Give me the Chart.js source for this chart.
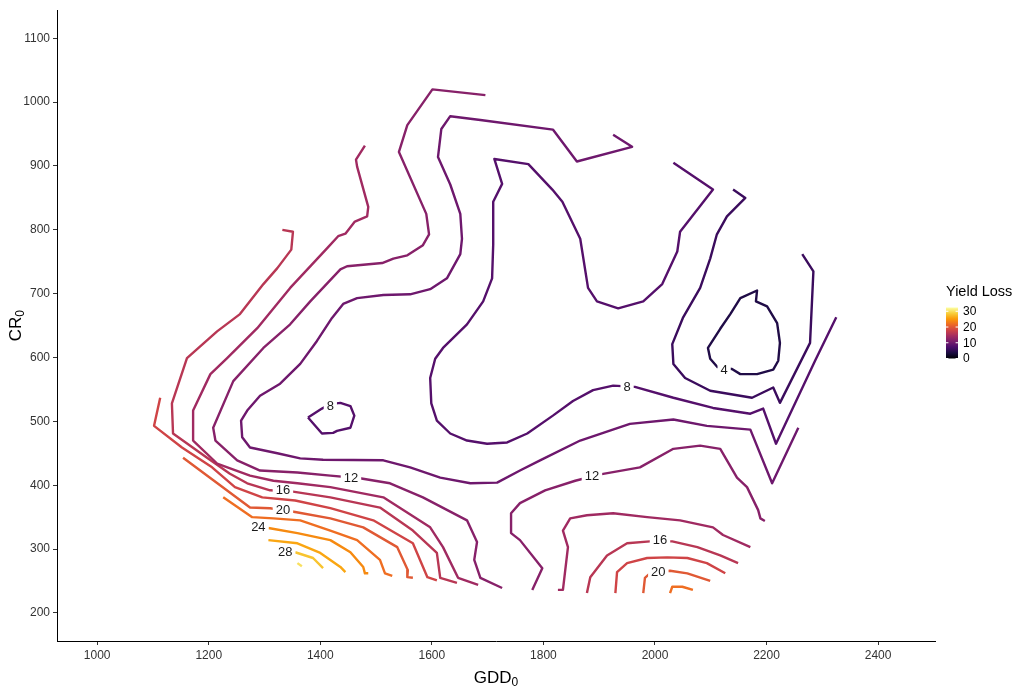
<!DOCTYPE html>
<html>
<head>
<meta charset="utf-8">
<script src="https://cdn.jsdelivr.net/npm/chart.js@4.4.1/dist/chart.umd.min.js"></script>
<style>
  html, body { margin: 0; padding: 0; background: #ffffff; }
  canvas { display: block; }
</style>
</head>
<body>
<canvas id="chart" width="1021" height="687"></canvas>
<script>
// Axis ticks
const xTicks = [1000, 1200, 1400, 1600, 1800, 2000, 2200, 2400];
const yTicks = [200, 300, 400, 500, 600, 700, 800, 900, 1000, 1100];

// Contour paths of yield loss, as [GDD0, CR0] pairs
const loss4 = [[2113,584],[2099,598],[2095,615],[2117,645],[2135,668],[2153,693],[2183,705],[2181,688],[2201,680],[2219,654],[2224,623],[2221,595],[2212,581],[2183,574],[2153,574],[2138,582],[2113,584]];
const loss6 = [[2140,863],[2162,850],[2129,821],[2111,793],[2099,755],[2081,709],[2050,662],[2031,621],[2033,590],[2054,568],[2099,548],[2174,537],[2212,553],[2224,529],[2278,623],[2284,735],[2264,762]];
const loss8 = [[2033,905],[2104,863],[2045,797],[2040,766],[2013,715],[1979,688],[1934,677],[1896,688],[1880,709],[1866,786],[1834,844],[1816,863],[1773,903],[1712,911],[1726,872],[1710,844],[1710,777],[1708,724],[1692,688],[1663,652],[1620,615],[1606,598],[1597,568],[1599,528],[1609,501],[1633,481],[1663,470],[1699,465],[1735,467],[1771,481],[1817,509],[1853,532],[1889,549],[1925,556],[1964,554],[2033,537],[2104,521],[2171,512],[2194,520],[2217,465],[2287,595],[2325,663]];
const loss8Island = [[1378,506],[1403,520],[1418,527],[1436,529],[1454,524],[1461,509],[1454,490],[1430,485],[1423,482],[1403,481],[1378,506]];
const loss10 = [[1925,949],[1959,930],[1860,907],[1817,957],[1687,972],[1633,978],[1617,958],[1611,914],[1633,871],[1651,825],[1654,786],[1651,762],[1627,724],[1597,707],[1561,699],[1513,698],[1466,693],[1441,684],[1421,662],[1394,626],[1364,590],[1328,559],[1292,540],[1269,517],[1258,501],[1260,475],[1274,459],[1323,450],[1364,442],[1405,440],[1513,439],[1561,428],[1615,412],[1669,403],[1717,404],[1758,423],[1794,439],[1866,470],[1955,496],[2033,503],[2093,493],[2171,487],[2210,403],[2257,490]];
const loss12West = [[1696,1011],[1601,1020],[1556,964],[1541,922],[1590,825],[1595,793],[1584,776],[1556,760],[1531,755],[1511,748],[1448,743],[1436,738],[1382,688],[1346,652],[1298,615],[1244,563],[1208,490],[1212,470],[1251,439],[1292,423],[1359,420],[1418,415],[1471,411],[1525,403],[1584,381],[1663,345],[1681,311],[1676,283],[1687,255],[1726,239]];
const loss12East = [[1780,236],[1798,270],[1758,314],[1742,325],[1742,356],[1758,372],[1803,392],[1857,407],[1902,417],[1973,428],[2033,457],[2081,462],[2117,457],[2147,412],[2165,397],[2185,361],[2189,348],[2197,344]];
const loss14West = [[1480,932],[1464,910],[1466,899],[1486,836],[1484,821],[1462,813],[1445,794],[1432,790],[1412,771],[1346,709],[1287,646],[1233,599],[1203,574],[1172,517],[1172,470],[1215,434],[1274,415],[1316,407],[1359,403],[1418,397],[1513,381],[1597,334],[1620,303],[1647,255],[1683,244]];
const loss14East = [[1826,236],[1835,236],[1844,303],[1835,329],[1848,348],[1878,353],[1925,356],[1986,350],[2045,345],[2104,334],[2122,322],[2171,303]];
const loss16West = [[1332,800],[1351,797],[1348,769],[1323,740],[1298,715],[1256,668],[1215,641],[1161,599],[1134,528],[1136,481],[1197,443],[1238,418],[1269,403],[1310,392],[1351,390],[1418,381],[1507,365],[1566,329],[1609,294],[1615,255],[1645,247]];
const loss16East = [[1878,231],[1884,256],[1914,290],[1950,309],[1991,312],[2031,312],[2076,303],[2117,290],[2149,278]];
const loss18West = [[1113,537],[1102,493],[1152,459],[1206,428],[1247,397],[1296,381],[1355,376],[1418,364],[1495,345],[1566,309],[1592,256],[1609,251]];
const loss18East = [[1929,231],[1932,264],[1950,278],[1986,286],[2022,287],[2058,286],[2093,278],[2126,262]];
const loss20West = [[1154,443],[1274,365],[1310,364],[1355,358],[1418,348],[1477,334],[1538,303],[1557,267],[1556,256],[1566,255]];
const loss20East = [[1979,231],[1982,255],[1991,262],[2027,266],[2058,262],[2099,250]];
const loss22West = [[1226,381],[1278,350],[1316,348],[1364,345],[1418,329],[1466,314],[1507,283],[1516,262],[1529,258]];
const loss22East = [[2027,231],[2031,241],[2049,241],[2068,236]];
const loss24 = [[1307,333],[1359,325],[1418,314],[1454,295],[1477,272],[1480,262],[1486,262]];
const loss26 = [[1307,314],[1359,309],[1400,294],[1436,272],[1445,264]];
const loss28 = [[1355,295],[1387,286],[1405,270]];
const loss30 = [[1359,278],[1367,273]];

// Level of each path, in the same order as the paths below
const contourLevels = [4, 6, 8, 8, 10, 12, 12, 14, 14, 16, 16, 18, 18, 20, 20, 22, 22, 24, 26, 28, 30];
const contourPaths = [loss4, loss6, loss8, loss8Island, loss10, loss12West, loss12East, loss14West, loss14East,
  loss16West, loss16East, loss18West, loss18East, loss20West, loss20East, loss22West, loss22East,
  loss24, loss26, loss28, loss30];

// In-line contour labels
const labelText = ['4', '8', '8', '12', '12', '16', '16', '20', '20', '24', '28'];
const labelGdd  = [2124, 1950, 1418, 1455, 1887, 1333, 2009, 1333, 2006, 1289, 1337];
const labelCr   = [581, 554, 524, 411, 414, 392, 314, 362, 264, 334, 295];

// Colour bar
const legendTicks = [0, 10, 20, 30];
const legendMax = 32.4;

const FONT = "'Liberation Sans', Arial, Helvetica, sans-serif";
const INFERNO = ['#000004', '#1b0c42', '#4b0c6b', '#781c6d', '#a52c60', '#cf4446', '#ed6925', '#fb9a06', '#f7d03c', '#fcffa4'];

function hexToRgb(h) {
  return [parseInt(h.slice(1, 3), 16), parseInt(h.slice(3, 5), 16), parseInt(h.slice(5, 7), 16)];
}
function inferno(t) {
  t = Math.max(0, Math.min(1, t));
  const p = t * (INFERNO.length - 1);
  const i = Math.min(INFERNO.length - 2, Math.floor(p));
  const f = p - i;
  const a = hexToRgb(INFERNO[i]), b = hexToRgb(INFERNO[i + 1]);
  const c = a.map((v, k) => Math.round(v + (b[k] - v) * f));
  return `rgb(${c[0]},${c[1]},${c[2]})`;
}

const datasets = contourPaths.map((path, i) => ({
  data: path.map(([x, y]) => ({ x, y })),
  showLine: true,
  pointRadius: 0,
  pointHoverRadius: 0,
  borderWidth: 2.4,
  borderColor: inferno(contourLevels[i] / legendMax),
  borderJoinStyle: 'round',
  fill: false,
  tension: 0
}));

const overlay = {
  id: 'overlay',
  afterDatasetsDraw(chart) {
    const { ctx, scales: { x, y }, chartArea } = chart;
    ctx.save();

    // contour labels with a white knock-out behind the digits
    ctx.font = '13px ' + FONT;
    ctx.textAlign = 'center';
    ctx.textBaseline = 'middle';
    labelText.forEach((t, i) => {
      const px = x.getPixelForValue(labelGdd[i]);
      const py = y.getPixelForValue(labelCr[i]);
      const w = ctx.measureText(t).width;
      ctx.fillStyle = '#ffffff';
      ctx.fillRect(px - w / 2 - 3, py - 6, w + 6, 12);
      ctx.fillStyle = '#1a1a1a';
      ctx.fillText(t, px, py + 0.5);
    });

    // axis titles with subscript zero
    ctx.fillStyle = '#000000';
    ctx.textAlign = 'left';
    ctx.textBaseline = 'alphabetic';
    const mainFont = '17px ' + FONT, subFont = '12px ' + FONT;
    function subTitle(main, cx, baseY) {
      ctx.font = mainFont;
      const w1 = ctx.measureText(main).width;
      ctx.font = subFont;
      const w2 = ctx.measureText('0').width;
      const sx = cx - (w1 + w2) / 2;
      ctx.font = mainFont;
      ctx.fillText(main, sx, baseY);
      ctx.font = subFont;
      ctx.fillText('0', sx + w1, baseY + 3);
    }
    subTitle('GDD', (chartArea.left + chartArea.right) / 2, 683);
    ctx.save();
    ctx.translate(21, (chartArea.top + chartArea.bottom) / 2);
    ctx.rotate(-Math.PI / 2);
    subTitle('CR', 0, 0);
    ctx.restore();

    // colour bar legend
    const bx = 946, bw = 12, bTop = 307.5, bBot = 358.5;
    ctx.font = '14.5px ' + FONT;
    ctx.fillStyle = '#000000';
    ctx.fillText('Yield Loss', 946, 296);
    const grad = ctx.createLinearGradient(0, bBot, 0, bTop);
    for (let k = 0; k <= 40; k++) grad.addColorStop(k / 40, inferno(k / 40));
    ctx.fillStyle = grad;
    ctx.fillRect(bx, bTop, bw, bBot - bTop);
    ctx.strokeStyle = '#ffffff';
    ctx.lineWidth = 1;
    ctx.font = '12px ' + FONT;
    ctx.textBaseline = 'middle';
    legendTicks.forEach(v => {
      const py = bBot - (v / legendMax) * (bBot - bTop);
      ctx.beginPath();
      ctx.moveTo(bx, py); ctx.lineTo(bx + 2.4, py);
      ctx.moveTo(bx + bw - 2.4, py); ctx.lineTo(bx + bw, py);
      ctx.stroke();
      ctx.fillStyle = '#000000';
      ctx.fillText(String(v), 963, py + 0.5);
    });
    ctx.restore();
  }
};

Chart.defaults.font.family = FONT;

new Chart(document.getElementById('chart'), {
  type: 'scatter',
  data: { datasets },
  options: {
    responsive: false,
    animation: false,
    events: [],
    layout: { padding: { top: 8, right: 86, left: 0, bottom: 0 } },
    plugins: { legend: { display: false }, tooltip: { enabled: false } },
    scales: {
      x: {
        type: 'linear',
        min: 928,
        max: 2502,
        afterBuildTicks: s => { s.ticks = xTicks.map(v => ({ value: v })); },
        afterFit: s => { s.height = 46; },
        ticks: { color: '#333333', font: { size: 12 }, padding: 3, maxRotation: 0, autoSkip: false, callback: v => String(v) },
        grid: { display: true, drawOnChartArea: false, drawTicks: true, tickLength: 4, tickColor: '#333333', lineWidth: 1 },
        border: { display: true, color: '#000000', width: 1 }
      },
      y: {
        type: 'linear',
        min: 156,
        max: 1144,
        afterBuildTicks: s => { s.ticks = yTicks.map(v => ({ value: v })); },
        afterFit: s => { s.width = 57; },
        ticks: { color: '#333333', font: { size: 12 }, padding: 3, autoSkip: false, callback: v => String(v) },
        grid: { display: true, drawOnChartArea: false, drawTicks: true, tickLength: 4, tickColor: '#333333', lineWidth: 1 },
        border: { display: true, color: '#000000', width: 1 }
      }
    }
  },
  plugins: [overlay]
});
</script>
</body>
</html>
